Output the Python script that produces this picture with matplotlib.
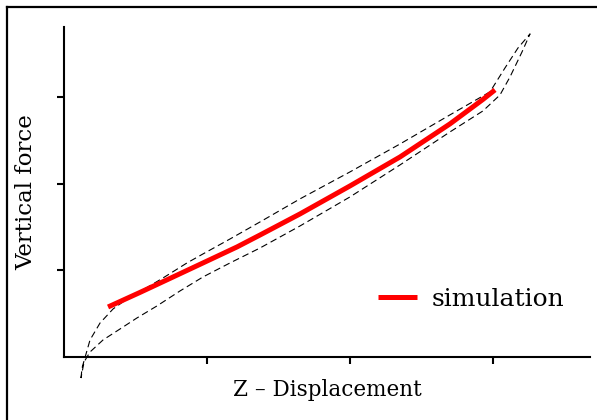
import matplotlib.pyplot as plt
from matplotlib.lines import Line2D

# simulation curve
sim_x = [0.308, 0.531, 0.741, 0.972, 1.210, 1.371, 1.650, 2.000, 2.350, 2.699, 2.930, 3.014]
sim_y = [0.578, 0.746, 0.908, 1.087, 1.272, 1.410, 1.653, 1.977, 2.312, 2.694, 2.977, 3.087]

# measured hysteresis loop: loading branch, then unloading branch
load_x = [0.119, 0.126, 0.182, 0.252, 0.343, 0.441, 0.552, 0.692, 0.860, 0.972, 1.161,
          1.371, 1.650, 2.000, 2.350, 2.699, 2.979, 3.084, 3.175, 3.259]
load_y = [-0.243, -0.127, 0.197, 0.393, 0.555, 0.671, 0.775, 0.913, 1.087, 1.191, 1.364,
          1.561, 1.827, 2.139, 2.462, 2.798, 3.064, 3.341, 3.572, 3.734]
unload_x = [3.259, 3.203, 3.119, 3.049, 2.930, 2.699, 2.350, 2.000, 1.650, 1.371, 1.161,
            0.972, 0.811, 0.650, 0.510, 0.392, 0.273, 0.182, 0.140, 0.119]
unload_y = [3.734, 3.526, 3.237, 3.029, 2.844, 2.601, 2.220, 1.850, 1.514, 1.260, 1.087,
            0.925, 0.763, 0.590, 0.451, 0.324, 0.197, 0.058, -0.058, -0.243]

x_ticks = [1, 2, 3]
y_ticks = [1, 2, 3]

plt.rcParams['font.family'] = ['DejaVu Serif']

fig = plt.figure(figsize=(5.97, 4.20), dpi=100)
ax = fig.add_axes([0.1072, 0.15, 0.881, 0.786])

ax.plot(load_x + unload_x, load_y + unload_y, color='black', lw=0.8,
        dashes=(6, 3.5), clip_on=False)
ax.plot(sim_x, sim_y, color='red', lw=3.6, solid_capstyle='butt', label='simulation')

ax.set_xlim(0, 3.678)
ax.set_ylim(0, 3.815)
ax.set_xticks(x_ticks)
ax.set_yticks(y_ticks)
ax.set_xticklabels([])
ax.set_yticklabels([])
ax.tick_params(direction='out', length=5, width=1.5)
for s in ['top', 'right']:
    ax.spines[s].set_visible(False)
for s in ['left', 'bottom']:
    ax.spines[s].set_linewidth(1.5)

ax.set_xlabel('Z \u2013 Displacement', fontsize=15.5, labelpad=7)
ax.set_ylabel('Vertical force', fontsize=16.5, labelpad=10.5)

ax.legend(loc='center left', bbox_to_anchor=(0.555, 0.175), frameon=False,
          fontsize=18, handlelength=1.55, handletextpad=0.56)

# outer frame (only left and top edges visible)
fig.add_artist(Line2D([7 / 597, 7 / 597], [0, 1 - 7 / 420], color='black', lw=1.6))
fig.add_artist(Line2D([7 / 597, 1], [1 - 7 / 420, 1 - 7 / 420], color='black', lw=1.6))

fig.savefig('out.png', dpi=100)
